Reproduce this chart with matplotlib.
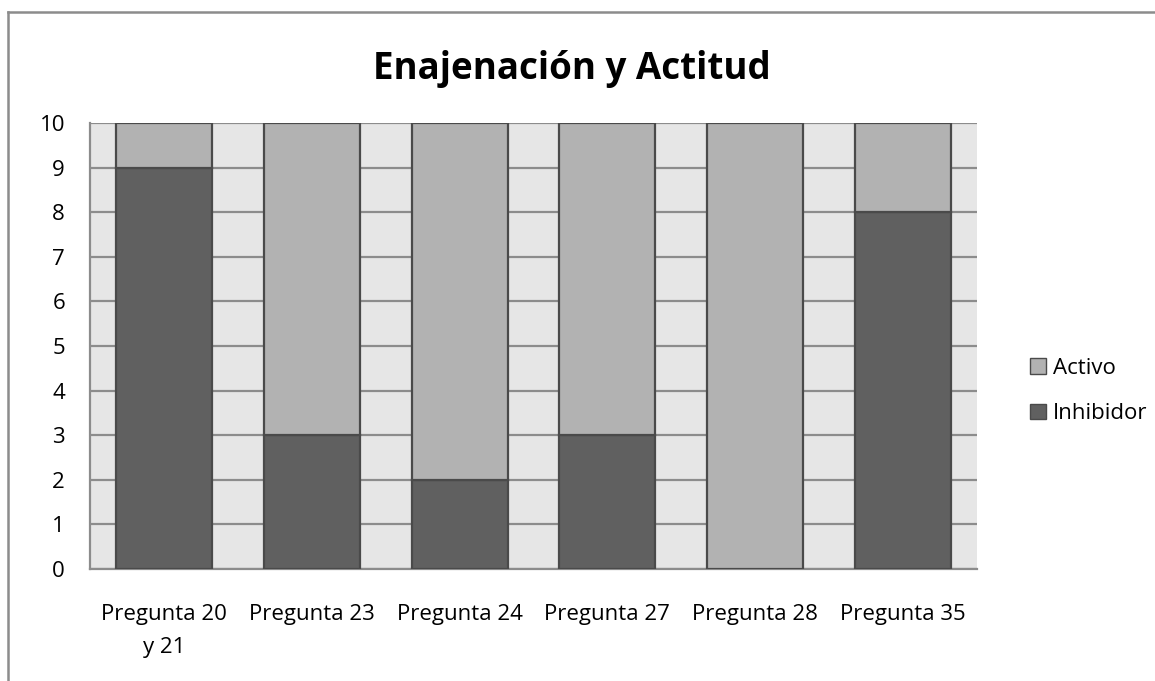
import matplotlib
matplotlib.use("Agg")
import matplotlib.pyplot as plt
from matplotlib.lines import Line2D
from matplotlib.patches import Patch

categories = ["Pregunta 20\ny 21", "Pregunta 23", "Pregunta 24", "Pregunta 27", "Pregunta 28", "Pregunta 35"]
inhibidor = [9, 3, 2, 3, 0, 8]
activo = [1, 7, 8, 7, 10, 2]
yticks = list(range(0, 11))

plt.rcParams['font.family'] = ['Open Sans', 'DejaVu Sans']

W, H = 1155, 681
fig = plt.figure(figsize=(W/100, H/100), dpi=100)
ax = fig.add_axes([90/W, (H-569)/H, 887/W, (569-123)/H])
ax.set_facecolor("#E6E6E6")

x = list(range(len(categories)))
bw = 0.65
ax.bar(x, inhibidor, width=bw, color="#606060", edgecolor="#4A4A4A", linewidth=1.6, label="Inhibidor", zorder=3)
ax.bar(x, activo, width=bw, bottom=inhibidor, color="#B2B2B2", edgecolor="#4A4A4A", linewidth=1.6, label="Activo", zorder=3)

ax.set_xlim(-0.5, len(categories) - 0.5)
ax.set_ylim(0, 10)
ax.set_yticks(yticks)
ax.yaxis.grid(True, color="#8C8C8C", linewidth=1.6, zorder=0)
ax.set_axisbelow(True)
for s in ["top", "right"]:
    ax.spines[s].set_visible(False)
ax.spines["left"].set_color("#8C8C8C")
ax.spines["left"].set_linewidth(1.6)
ax.spines["bottom"].set_color("#8C8C8C")
ax.spines["bottom"].set_linewidth(1.6)
ax.tick_params(axis="both", length=0, labelsize=16, colors="#000000")
ax.tick_params(axis="y", pad=18)
ax.tick_params(axis="x", pad=25)
ax.set_xticks(x)
ax.set_xticklabels(categories, linespacing=1.75)

fig.text(572/W, 1 - 69/H, "Enajenación y Actitud", ha="center", va="center", fontsize=26.5, fontweight="bold")

handles = [Patch(facecolor="#B2B2B2", edgecolor="#4A4A4A", linewidth=1.0, label="Activo"),
           Patch(facecolor="#606060", edgecolor="#4A4A4A", linewidth=1.0, label="Inhibidor")]
leg = fig.legend(handles=handles, loc="center left", bbox_to_anchor=(1019/W, 1 - 391/H),
                 frameon=False, fontsize=16, handlelength=0.72, handleheight=0.72,
                 handletextpad=0.3, labelspacing=1.1, borderpad=0)

# outer border (top and left visible)
fig.add_artist(Line2D([8/W, 1], [1 - 11.5/H, 1 - 11.5/H], color="#8C8C8C", linewidth=1.8, transform=fig.transFigure))
fig.add_artist(Line2D([8/W, 8/W], [0, 1 - 11.5/H], color="#8C8C8C", linewidth=1.8, transform=fig.transFigure))

fig.savefig("out.png", dpi=100)
